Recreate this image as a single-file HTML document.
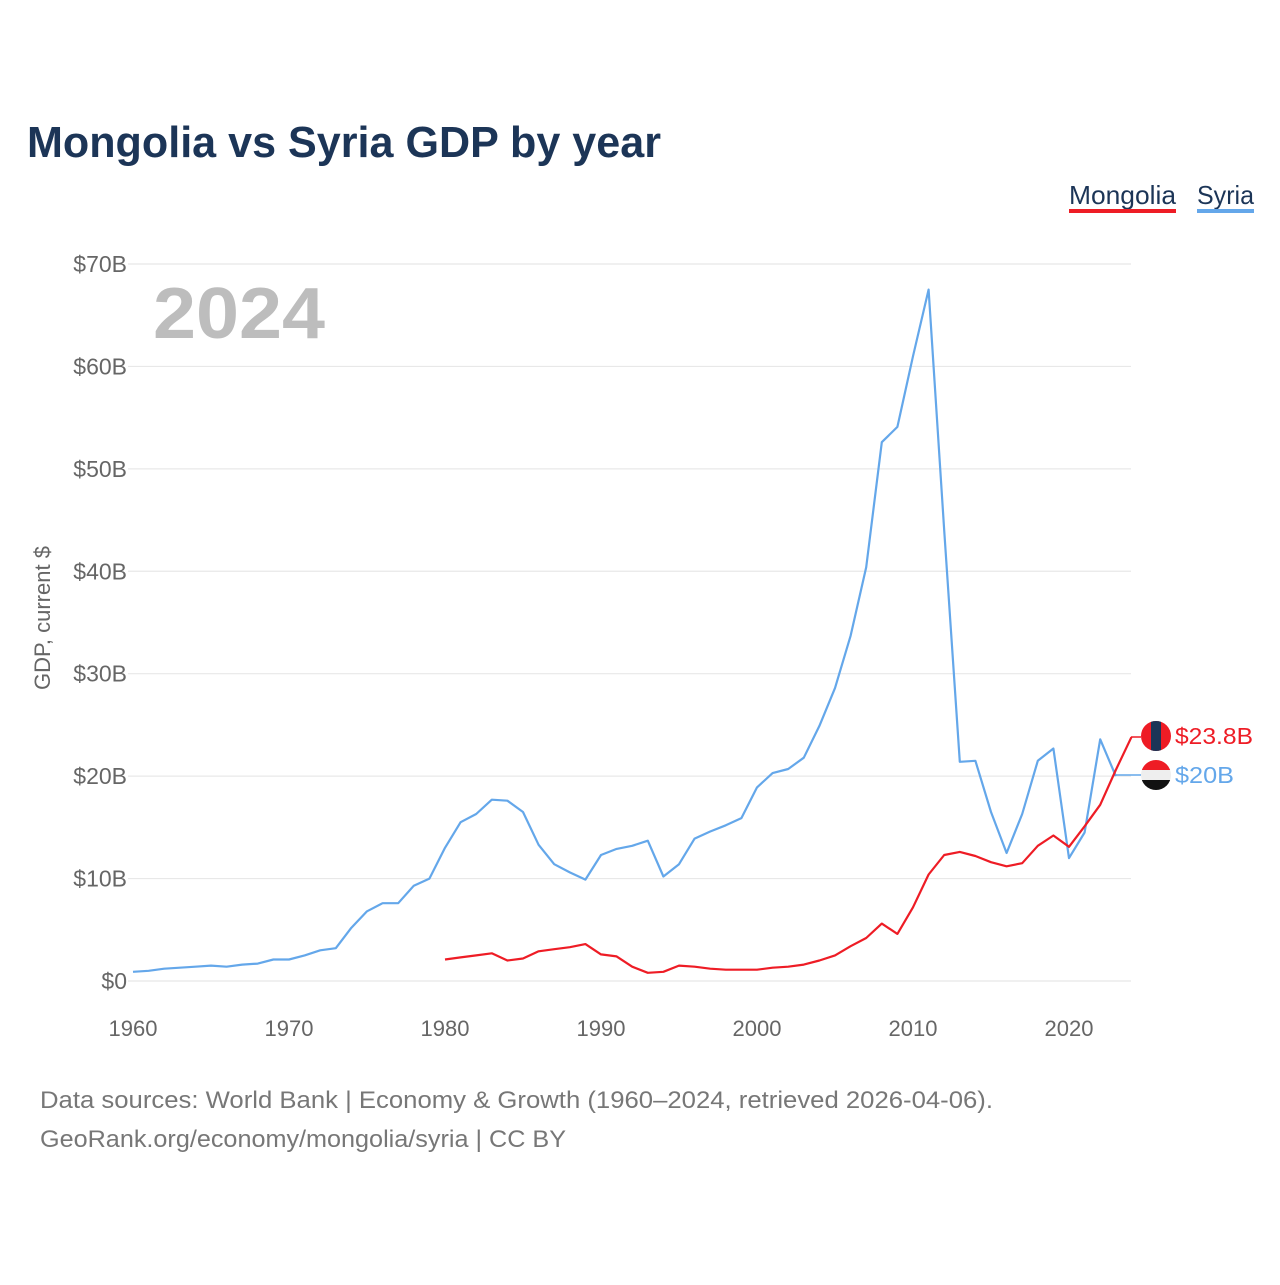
<!DOCTYPE html>
<html><head><meta charset="utf-8"><style>
body{margin:0;background:#fff;font-family:"Liberation Sans",sans-serif}
</style></head><body>
<svg width="1280" height="1280" viewBox="0 0 1280 1280" xmlns="http://www.w3.org/2000/svg">
<rect width="1280" height="1280" fill="#fff"/>
<text x="27" y="157" font-size="44" font-weight="bold" fill="#1c3557" textLength="634" lengthAdjust="spacingAndGlyphs">Mongolia vs Syria GDP by year</text>
<g>
<text x="1069" y="204" font-size="26" fill="#1c3557" textLength="107" lengthAdjust="spacingAndGlyphs">Mongolia</text>
<rect x="1069" y="209" width="107" height="4" fill="#ee1c25"/>
<text x="1197" y="204" font-size="26" fill="#1c3557" textLength="57" lengthAdjust="spacingAndGlyphs">Syria</text>
<rect x="1197" y="209" width="57" height="4" fill="#64a7ea"/>
</g>
<g id="grid"></g>
<text x="153" y="338" font-size="72" font-weight="bold" fill="#bdbdbd" textLength="172" lengthAdjust="spacingAndGlyphs">2024</text>
<text transform="translate(50,618) rotate(-90)" text-anchor="middle" font-size="22" fill="#666">GDP, current $</text>
<g id="series"></g>
<g>
<line x1="1131" y1="737" x2="1141" y2="737" stroke="#ee1c25" stroke-width="1.5"/>
<line x1="1115" y1="775" x2="1141" y2="775" stroke="#64a7ea" stroke-width="1.5"/>
<clipPath id="c1"><circle cx="1156" cy="736" r="15"/></clipPath>
<g clip-path="url(#c1)"><rect x="1141" y="721" width="30" height="30" fill="#ee1c25"/><rect x="1151" y="721" width="10" height="30" fill="#1c3557"/></g>
<clipPath id="c2"><circle cx="1156" cy="775" r="15"/></clipPath>
<g clip-path="url(#c2)"><rect x="1141" y="760" width="30" height="10" fill="#ee1c25"/><rect x="1141" y="770" width="30" height="10" fill="#eee"/><rect x="1141" y="780" width="30" height="10" fill="#111"/></g>
<text x="1175" y="744" font-size="23" fill="#ee1c25" textLength="78" lengthAdjust="spacingAndGlyphs">$23.8B</text>
<text x="1175" y="783" font-size="23" fill="#64a7ea" textLength="59" lengthAdjust="spacingAndGlyphs">$20B</text>
</g>
<text x="40" y="1108" font-size="24" fill="#777" textLength="953" lengthAdjust="spacingAndGlyphs">Data sources: World Bank | Economy &amp; Growth (1960–2024, retrieved 2026-04-06).</text>
<text x="40" y="1147" font-size="24" fill="#777" textLength="526" lengthAdjust="spacingAndGlyphs">GeoRank.org/economy/mongolia/syria | CC BY</text>
</svg>
<script>
const yTicks=[0,10,20,30,40,50,60,70];
const yTickLabels=["$0","$10B","$20B","$30B","$40B","$50B","$60B","$70B"];
const xTicks=[1960,1970,1980,1990,2000,2010,2020];
const syriaStart=1960;
const syriaValues=[0.9,1.0,1.2,1.3,1.4,1.5,1.4,1.6,1.7,2.1,2.1,2.5,3.0,3.2,5.2,6.8,7.6,7.6,9.3,10.0,13.0,15.5,16.3,17.7,17.6,16.5,13.3,11.4,10.6,9.9,12.3,12.9,13.2,13.7,10.2,11.4,13.9,14.6,15.2,15.9,18.9,20.3,20.7,21.8,24.9,28.6,33.7,40.4,52.6,54.1,61.0,67.5,44.0,21.4,21.5,16.5,12.5,16.3,21.5,22.7,12.0,14.5,23.6,20.0];
const mongoliaStart=1980;
const mongoliaValues=[2.1,2.3,2.5,2.7,2.0,2.2,2.9,3.1,3.3,3.6,2.6,2.4,1.4,0.8,0.9,1.5,1.4,1.2,1.1,1.1,1.1,1.3,1.4,1.6,2.0,2.5,3.4,4.2,5.6,4.6,7.2,10.4,12.3,12.6,12.2,11.6,11.2,11.5,13.2,14.2,13.1,15.1,17.2,20.6,23.8];
const NS="http://www.w3.org/2000/svg";
const xS=y=>133+(y-1960)*15.6;
const yS=v=>981-v*10.243;
const grid=document.getElementById('grid');
yTicks.forEach((t,i)=>{
 const l=document.createElementNS(NS,'line');
 l.setAttribute('x1',128);l.setAttribute('x2',1131);l.setAttribute('y1',yS(t));l.setAttribute('y2',yS(t));
 l.setAttribute('stroke','#e8e8e8');l.setAttribute('stroke-width',1.2);
 
 
 grid.appendChild(l);
 const tx=document.createElementNS(NS,'text');
 tx.setAttribute('x',127);tx.setAttribute('y',yS(t)+8);tx.setAttribute('text-anchor','end');
 tx.setAttribute('font-size',23);tx.setAttribute('fill','#666');tx.textContent=yTickLabels[i];
 
 
 grid.appendChild(tx);
});
xTicks.forEach(t=>{
 const tx=document.createElementNS(NS,'text');
 tx.setAttribute('x',xS(t));tx.setAttribute('y',1036);tx.setAttribute('text-anchor','middle');
 tx.setAttribute('font-size',22);tx.setAttribute('fill','#666');tx.textContent=t;
 
 
 grid.appendChild(tx);
});
const ser=document.getElementById('series');
function line(vals,start,color,name){
 const p=document.createElementNS(NS,'polyline');
 p.setAttribute('points',vals.map((v,i)=>xS(start+i).toFixed(1)+','+yS(v).toFixed(1)).join(' '));
 p.setAttribute('fill','none');p.setAttribute('stroke',color);p.setAttribute('stroke-width',2.2);
 p.setAttribute('stroke-linejoin','round');
 
 
 ser.appendChild(p);
}
line(syriaValues,syriaStart,'#64a7ea','syria-line');
line(mongoliaValues,mongoliaStart,'#ee1c25','mongolia-line');
</script>
</body></html>
